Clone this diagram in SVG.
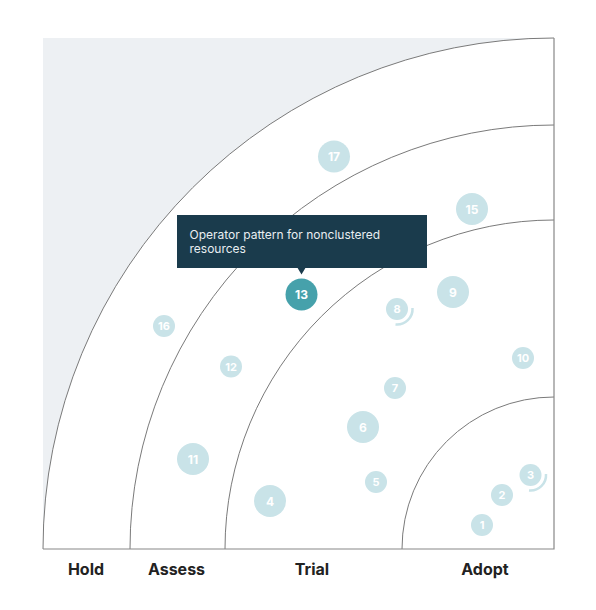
<svg xmlns="http://www.w3.org/2000/svg" width="596" height="610" viewBox="0 0 596 610">
<style>
.ring{fill:none;stroke:#7a7a7a;stroke-width:1}
.bl{fill:#c9e3e8}
.hl{fill:#46a1ab}
.num{font-family:Inter,"Liberation Sans",sans-serif;font-weight:700;fill:#ffffff;text-anchor:middle}
.nl{font-size:12px}
.ns{font-size:11px}
.ring-lbl{font-family:Inter,"Liberation Sans",sans-serif;font-weight:700;font-size:16px;fill:#222222;text-anchor:middle}
.mv{fill:none;stroke:#c9e3e8;stroke-width:2.5}
.tip{font-family:Inter,"Liberation Sans",sans-serif;font-size:12px;fill:#e9eef1}
</style>
<rect width="596" height="610" fill="#ffffff"/>
<g id="background">
<path d="M43 38 L554 38 A511 511 0 0 0 43 549 Z" fill="#edf0f3"/>
</g>
<g id="rings">
<path class="ring" d="M43 549 A511 511 0 0 1 554 38"/>
<path class="ring" d="M130 549 A424 424 0 0 1 554 125"/>
<path class="ring" d="M225 549 A329 329 0 0 1 554 220"/>
<path class="ring" d="M402 549 A152 152 0 0 1 554 397"/>
<path d="M554 38 V549 H43" fill="none" stroke="#888888" stroke-width="1.2"/>
</g>
<g id="labels">
<text class="ring-lbl" x="86" y="574.5">Hold</text>
<text class="ring-lbl" x="176.5" y="574.5">Assess</text>
<text class="ring-lbl" x="312" y="574.5">Trial</text>
<text class="ring-lbl" x="485" y="574.5">Adopt</text>
</g>
<g id="connectors"></g>
<g id="blip-1"><circle class="bl" cx="482" cy="525" r="11"/><text class="num ns" x="482" y="529">1</text></g>
<g id="blip-2"><circle class="bl" cx="502" cy="495" r="11"/><text class="num ns" x="502" y="499">2</text></g>
<g id="blip-3"><circle class="bl" cx="530.5" cy="475" r="11"/><path class="mv" d="M546 474 A15.5 15.5 0 0 1 529 490.5"/><text class="num ns" x="530.5" y="479">3</text></g>
<g id="blip-4"><circle class="bl" cx="270" cy="501" r="16"/><text class="num nl" x="270" y="505.5">4</text></g>
<g id="blip-5"><circle class="bl" cx="376" cy="482" r="11"/><text class="num ns" x="376" y="486">5</text></g>
<g id="blip-6"><circle class="bl" cx="363" cy="427" r="16"/><text class="num nl" x="363" y="431.5">6</text></g>
<g id="blip-7"><circle class="bl" cx="395" cy="388" r="11"/><text class="num ns" x="395" y="392">7</text></g>
<g id="blip-8"><circle class="bl" cx="397" cy="309" r="11"/><path class="mv" d="M412.5 308 A15.5 15.5 0 0 1 395.5 324.5"/><text class="num ns" x="397" y="313">8</text></g>
<g id="blip-9"><circle class="bl" cx="453" cy="292" r="16"/><text class="num nl" x="453" y="296.5">9</text></g>
<g id="blip-10"><circle class="bl" cx="523" cy="358" r="11"/><text class="num ns" x="523" y="362">10</text></g>
<g id="blip-11"><circle class="bl" cx="193" cy="459" r="16"/><text class="num nl" x="193" y="463.5">11</text></g>
<g id="blip-12"><circle class="bl" cx="231" cy="366.5" r="11"/><text class="num ns" x="231" y="370.5">12</text></g>
<g id="blip-15"><circle class="bl" cx="472" cy="209" r="16"/><text class="num nl" x="472" y="213.5">15</text></g>
<g id="blip-16"><circle class="bl" cx="164" cy="326" r="11"/><text class="num ns" x="164" y="330">16</text></g>
<g id="blip-17"><circle class="bl" cx="334" cy="156.5" r="16"/><text class="num nl" x="334" y="161">17</text></g>
<g id="blip-13"><circle class="hl" cx="301.5" cy="294.5" r="16"/><text class="num nl" x="301.5" y="299">13</text></g>
<g id="tooltip">
<rect x="177" y="215" width="250" height="53" fill="#1a3b4c"/>
<path d="M297 267 L306 267 L301.5 274.5 Z" fill="#1a3b4c"/>
<text class="tip" x="189.5" y="238.5">Operator pattern for nonclustered</text>
<text class="tip" x="189.5" y="253">resources</text>
</g>
</svg>
